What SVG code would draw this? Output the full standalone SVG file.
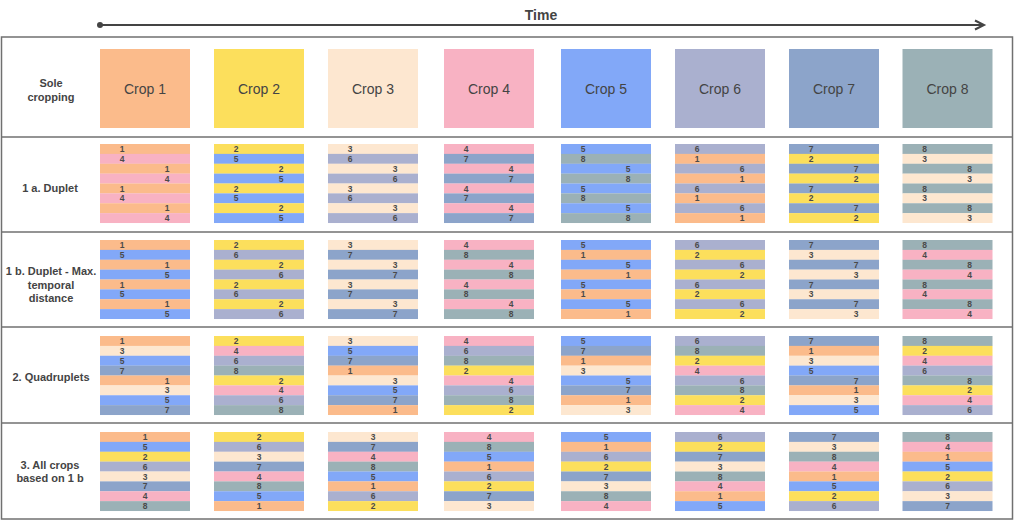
<svg xmlns="http://www.w3.org/2000/svg" width="1024" height="527" viewBox="0 0 1024 527">
<style>
.c1{fill:#FBBB8B}.c2{fill:#FCDF5C}.c3{fill:#FDE7D0}.c4{fill:#F8B2C3}.c5{fill:#82A8F8}.c6{fill:#AAB0CF}.c7{fill:#8CA4CA}.c8{fill:#9BB1B6}
.n{font-family:"Liberation Sans",Arial,sans-serif;font-weight:bold;font-size:8.5px;fill:#4a4a4a;text-anchor:middle}
.lbl{font-family:"Liberation Sans",Arial,sans-serif;font-weight:bold;font-size:11px;fill:#444;text-anchor:middle}
.crop{font-family:"Liberation Sans",Arial,sans-serif;font-size:14px;fill:#444;text-anchor:middle}
.grid{stroke:#707070;stroke-width:1.5;fill:none}
</style>
<rect width="1024" height="527" fill="#fff"/>
<g id="connectors">
<text x="541" y="20" font-family="Liberation Sans, Arial, sans-serif" font-weight="bold" font-size="14" fill="#444" text-anchor="middle">Time</text>
<line x1="100" y1="25" x2="983" y2="25" stroke="#444" stroke-width="2"/>
<circle cx="100" cy="25" r="3" fill="#444"/>
<path d="M975,20.5 L984,25 L975,29.5" fill="none" stroke="#444" stroke-width="2"/>
</g>
<g id="table">
<rect class="grid" x="1.5" y="37" width="1011" height="482"/>
<line class="grid" x1="1.5" y1="137" x2="1012.5" y2="137"/>
<line class="grid" x1="1.5" y1="232" x2="1012.5" y2="232"/>
<line class="grid" x1="1.5" y1="327" x2="1012.5" y2="327"/>
<line class="grid" x1="1.5" y1="423" x2="1012.5" y2="423"/>
</g>
<g id="row-labels">
<text class="lbl" x="51" y="87">Sole</text><text class="lbl" x="51" y="101">cropping</text>
<text class="lbl" x="50" y="192">1 a. Duplet</text>
<text class="lbl" x="51" y="275">1 b. Duplet - Max.</text><text class="lbl" x="51" y="289">temporal</text><text class="lbl" x="51" y="302">distance</text>
<text class="lbl" x="51" y="381">2. Quadruplets</text>
<text class="lbl" x="50" y="469">3. All crops</text><text class="lbl" x="50" y="482">based on 1 b</text>
</g>
<g id="sole">
<g id="crop1"><rect class="c1" x="100" y="49" width="90" height="79"/><text class="crop" x="145" y="94">Crop 1</text></g>
<g id="crop2"><rect class="c2" x="214" y="49" width="90" height="79"/><text class="crop" x="259" y="94">Crop 2</text></g>
<g id="crop3"><rect class="c3" x="328" y="49" width="90" height="79"/><text class="crop" x="373" y="94">Crop 3</text></g>
<g id="crop4"><rect class="c4" x="444" y="49" width="90" height="79"/><text class="crop" x="489" y="94">Crop 4</text></g>
<g id="crop5"><rect class="c5" x="561" y="49" width="90" height="79"/><text class="crop" x="606" y="94">Crop 5</text></g>
<g id="crop6"><rect class="c6" x="675" y="49" width="90" height="79"/><text class="crop" x="720" y="94">Crop 6</text></g>
<g id="crop7"><rect class="c7" x="789" y="49" width="90" height="79"/><text class="crop" x="834" y="94">Crop 7</text></g>
<g id="crop8"><rect class="c8" x="902.5" y="49" width="90" height="79"/><text class="crop" x="947.5" y="94">Crop 8</text></g>
</g>
<g id="duplet-1a">
<g id="d1a-1" transform="translate(100,144)"><rect class="c1" y="0" width="90" height="10"/><rect class="c4" y="9.875" width="90" height="10"/><rect class="c1" y="19.75" width="90" height="10"/><rect class="c4" y="29.625" width="90" height="10"/><rect class="c1" y="39.5" width="90" height="10"/><rect class="c4" y="49.375" width="90" height="10"/><rect class="c1" y="59.25" width="90" height="10"/><rect class="c4" y="69.125" width="90" height="9.9"/><text class="n" x="22" y="8">1</text><text class="n" x="22" y="17.9">4</text><text class="n" x="67" y="27.8">1</text><text class="n" x="67" y="37.6">4</text><text class="n" x="22" y="47.5">1</text><text class="n" x="22" y="57.4">4</text><text class="n" x="67" y="67.3">1</text><text class="n" x="67" y="77.1">4</text></g>
<g id="d1a-2" transform="translate(214,144)"><rect class="c2" y="0" width="90" height="10"/><rect class="c5" y="9.875" width="90" height="10"/><rect class="c2" y="19.75" width="90" height="10"/><rect class="c5" y="29.625" width="90" height="10"/><rect class="c2" y="39.5" width="90" height="10"/><rect class="c5" y="49.375" width="90" height="10"/><rect class="c2" y="59.25" width="90" height="10"/><rect class="c5" y="69.125" width="90" height="9.9"/><text class="n" x="22" y="8">2</text><text class="n" x="22" y="17.9">5</text><text class="n" x="67" y="27.8">2</text><text class="n" x="67" y="37.6">5</text><text class="n" x="22" y="47.5">2</text><text class="n" x="22" y="57.4">5</text><text class="n" x="67" y="67.3">2</text><text class="n" x="67" y="77.1">5</text></g>
<g id="d1a-3" transform="translate(328,144)"><rect class="c3" y="0" width="90" height="10"/><rect class="c6" y="9.875" width="90" height="10"/><rect class="c3" y="19.75" width="90" height="10"/><rect class="c6" y="29.625" width="90" height="10"/><rect class="c3" y="39.5" width="90" height="10"/><rect class="c6" y="49.375" width="90" height="10"/><rect class="c3" y="59.25" width="90" height="10"/><rect class="c6" y="69.125" width="90" height="9.9"/><text class="n" x="22" y="8">3</text><text class="n" x="22" y="17.9">6</text><text class="n" x="67" y="27.8">3</text><text class="n" x="67" y="37.6">6</text><text class="n" x="22" y="47.5">3</text><text class="n" x="22" y="57.4">6</text><text class="n" x="67" y="67.3">3</text><text class="n" x="67" y="77.1">6</text></g>
<g id="d1a-4" transform="translate(444,144)"><rect class="c4" y="0" width="90" height="10"/><rect class="c7" y="9.875" width="90" height="10"/><rect class="c4" y="19.75" width="90" height="10"/><rect class="c7" y="29.625" width="90" height="10"/><rect class="c4" y="39.5" width="90" height="10"/><rect class="c7" y="49.375" width="90" height="10"/><rect class="c4" y="59.25" width="90" height="10"/><rect class="c7" y="69.125" width="90" height="9.9"/><text class="n" x="22" y="8">4</text><text class="n" x="22" y="17.9">7</text><text class="n" x="67" y="27.8">4</text><text class="n" x="67" y="37.6">7</text><text class="n" x="22" y="47.5">4</text><text class="n" x="22" y="57.4">7</text><text class="n" x="67" y="67.3">4</text><text class="n" x="67" y="77.1">7</text></g>
<g id="d1a-5" transform="translate(561,144)"><rect class="c5" y="0" width="90" height="10"/><rect class="c8" y="9.875" width="90" height="10"/><rect class="c5" y="19.75" width="90" height="10"/><rect class="c8" y="29.625" width="90" height="10"/><rect class="c5" y="39.5" width="90" height="10"/><rect class="c8" y="49.375" width="90" height="10"/><rect class="c5" y="59.25" width="90" height="10"/><rect class="c8" y="69.125" width="90" height="9.9"/><text class="n" x="22" y="8">5</text><text class="n" x="22" y="17.9">8</text><text class="n" x="67" y="27.8">5</text><text class="n" x="67" y="37.6">8</text><text class="n" x="22" y="47.5">5</text><text class="n" x="22" y="57.4">8</text><text class="n" x="67" y="67.3">5</text><text class="n" x="67" y="77.1">8</text></g>
<g id="d1a-6" transform="translate(675,144)"><rect class="c6" y="0" width="90" height="10"/><rect class="c1" y="9.875" width="90" height="10"/><rect class="c6" y="19.75" width="90" height="10"/><rect class="c1" y="29.625" width="90" height="10"/><rect class="c6" y="39.5" width="90" height="10"/><rect class="c1" y="49.375" width="90" height="10"/><rect class="c6" y="59.25" width="90" height="10"/><rect class="c1" y="69.125" width="90" height="9.9"/><text class="n" x="22" y="8">6</text><text class="n" x="22" y="17.9">1</text><text class="n" x="67" y="27.8">6</text><text class="n" x="67" y="37.6">1</text><text class="n" x="22" y="47.5">6</text><text class="n" x="22" y="57.4">1</text><text class="n" x="67" y="67.3">6</text><text class="n" x="67" y="77.1">1</text></g>
<g id="d1a-7" transform="translate(789,144)"><rect class="c7" y="0" width="90" height="10"/><rect class="c2" y="9.875" width="90" height="10"/><rect class="c7" y="19.75" width="90" height="10"/><rect class="c2" y="29.625" width="90" height="10"/><rect class="c7" y="39.5" width="90" height="10"/><rect class="c2" y="49.375" width="90" height="10"/><rect class="c7" y="59.25" width="90" height="10"/><rect class="c2" y="69.125" width="90" height="9.9"/><text class="n" x="22" y="8">7</text><text class="n" x="22" y="17.9">2</text><text class="n" x="67" y="27.8">7</text><text class="n" x="67" y="37.6">2</text><text class="n" x="22" y="47.5">7</text><text class="n" x="22" y="57.4">2</text><text class="n" x="67" y="67.3">7</text><text class="n" x="67" y="77.1">2</text></g>
<g id="d1a-8" transform="translate(902.5,144)"><rect class="c8" y="0" width="90" height="10"/><rect class="c3" y="9.875" width="90" height="10"/><rect class="c8" y="19.75" width="90" height="10"/><rect class="c3" y="29.625" width="90" height="10"/><rect class="c8" y="39.5" width="90" height="10"/><rect class="c3" y="49.375" width="90" height="10"/><rect class="c8" y="59.25" width="90" height="10"/><rect class="c3" y="69.125" width="90" height="9.9"/><text class="n" x="22" y="8">8</text><text class="n" x="22" y="17.9">3</text><text class="n" x="67" y="27.8">8</text><text class="n" x="67" y="37.6">3</text><text class="n" x="22" y="47.5">8</text><text class="n" x="22" y="57.4">3</text><text class="n" x="67" y="67.3">8</text><text class="n" x="67" y="77.1">3</text></g>
</g>
<g id="duplet-1b">
<g id="d1b-1" transform="translate(100,240)"><rect class="c1" y="0" width="90" height="10"/><rect class="c5" y="9.875" width="90" height="10"/><rect class="c1" y="19.75" width="90" height="10"/><rect class="c5" y="29.625" width="90" height="10"/><rect class="c1" y="39.5" width="90" height="10"/><rect class="c5" y="49.375" width="90" height="10"/><rect class="c1" y="59.25" width="90" height="10"/><rect class="c5" y="69.125" width="90" height="9.9"/><text class="n" x="22" y="8">1</text><text class="n" x="22" y="17.9">5</text><text class="n" x="67" y="27.8">1</text><text class="n" x="67" y="37.6">5</text><text class="n" x="22" y="47.5">1</text><text class="n" x="22" y="57.4">5</text><text class="n" x="67" y="67.3">1</text><text class="n" x="67" y="77.1">5</text></g>
<g id="d1b-2" transform="translate(214,240)"><rect class="c2" y="0" width="90" height="10"/><rect class="c6" y="9.875" width="90" height="10"/><rect class="c2" y="19.75" width="90" height="10"/><rect class="c6" y="29.625" width="90" height="10"/><rect class="c2" y="39.5" width="90" height="10"/><rect class="c6" y="49.375" width="90" height="10"/><rect class="c2" y="59.25" width="90" height="10"/><rect class="c6" y="69.125" width="90" height="9.9"/><text class="n" x="22" y="8">2</text><text class="n" x="22" y="17.9">6</text><text class="n" x="67" y="27.8">2</text><text class="n" x="67" y="37.6">6</text><text class="n" x="22" y="47.5">2</text><text class="n" x="22" y="57.4">6</text><text class="n" x="67" y="67.3">2</text><text class="n" x="67" y="77.1">6</text></g>
<g id="d1b-3" transform="translate(328,240)"><rect class="c3" y="0" width="90" height="10"/><rect class="c7" y="9.875" width="90" height="10"/><rect class="c3" y="19.75" width="90" height="10"/><rect class="c7" y="29.625" width="90" height="10"/><rect class="c3" y="39.5" width="90" height="10"/><rect class="c7" y="49.375" width="90" height="10"/><rect class="c3" y="59.25" width="90" height="10"/><rect class="c7" y="69.125" width="90" height="9.9"/><text class="n" x="22" y="8">3</text><text class="n" x="22" y="17.9">7</text><text class="n" x="67" y="27.8">3</text><text class="n" x="67" y="37.6">7</text><text class="n" x="22" y="47.5">3</text><text class="n" x="22" y="57.4">7</text><text class="n" x="67" y="67.3">3</text><text class="n" x="67" y="77.1">7</text></g>
<g id="d1b-4" transform="translate(444,240)"><rect class="c4" y="0" width="90" height="10"/><rect class="c8" y="9.875" width="90" height="10"/><rect class="c4" y="19.75" width="90" height="10"/><rect class="c8" y="29.625" width="90" height="10"/><rect class="c4" y="39.5" width="90" height="10"/><rect class="c8" y="49.375" width="90" height="10"/><rect class="c4" y="59.25" width="90" height="10"/><rect class="c8" y="69.125" width="90" height="9.9"/><text class="n" x="22" y="8">4</text><text class="n" x="22" y="17.9">8</text><text class="n" x="67" y="27.8">4</text><text class="n" x="67" y="37.6">8</text><text class="n" x="22" y="47.5">4</text><text class="n" x="22" y="57.4">8</text><text class="n" x="67" y="67.3">4</text><text class="n" x="67" y="77.1">8</text></g>
<g id="d1b-5" transform="translate(561,240)"><rect class="c5" y="0" width="90" height="10"/><rect class="c1" y="9.875" width="90" height="10"/><rect class="c5" y="19.75" width="90" height="10"/><rect class="c1" y="29.625" width="90" height="10"/><rect class="c5" y="39.5" width="90" height="10"/><rect class="c1" y="49.375" width="90" height="10"/><rect class="c5" y="59.25" width="90" height="10"/><rect class="c1" y="69.125" width="90" height="9.9"/><text class="n" x="22" y="8">5</text><text class="n" x="22" y="17.9">1</text><text class="n" x="67" y="27.8">5</text><text class="n" x="67" y="37.6">1</text><text class="n" x="22" y="47.5">5</text><text class="n" x="22" y="57.4">1</text><text class="n" x="67" y="67.3">5</text><text class="n" x="67" y="77.1">1</text></g>
<g id="d1b-6" transform="translate(675,240)"><rect class="c6" y="0" width="90" height="10"/><rect class="c2" y="9.875" width="90" height="10"/><rect class="c6" y="19.75" width="90" height="10"/><rect class="c2" y="29.625" width="90" height="10"/><rect class="c6" y="39.5" width="90" height="10"/><rect class="c2" y="49.375" width="90" height="10"/><rect class="c6" y="59.25" width="90" height="10"/><rect class="c2" y="69.125" width="90" height="9.9"/><text class="n" x="22" y="8">6</text><text class="n" x="22" y="17.9">2</text><text class="n" x="67" y="27.8">6</text><text class="n" x="67" y="37.6">2</text><text class="n" x="22" y="47.5">6</text><text class="n" x="22" y="57.4">2</text><text class="n" x="67" y="67.3">6</text><text class="n" x="67" y="77.1">2</text></g>
<g id="d1b-7" transform="translate(789,240)"><rect class="c7" y="0" width="90" height="10"/><rect class="c3" y="9.875" width="90" height="10"/><rect class="c7" y="19.75" width="90" height="10"/><rect class="c3" y="29.625" width="90" height="10"/><rect class="c7" y="39.5" width="90" height="10"/><rect class="c3" y="49.375" width="90" height="10"/><rect class="c7" y="59.25" width="90" height="10"/><rect class="c3" y="69.125" width="90" height="9.9"/><text class="n" x="22" y="8">7</text><text class="n" x="22" y="17.9">3</text><text class="n" x="67" y="27.8">7</text><text class="n" x="67" y="37.6">3</text><text class="n" x="22" y="47.5">7</text><text class="n" x="22" y="57.4">3</text><text class="n" x="67" y="67.3">7</text><text class="n" x="67" y="77.1">3</text></g>
<g id="d1b-8" transform="translate(902.5,240)"><rect class="c8" y="0" width="90" height="10"/><rect class="c4" y="9.875" width="90" height="10"/><rect class="c8" y="19.75" width="90" height="10"/><rect class="c4" y="29.625" width="90" height="10"/><rect class="c8" y="39.5" width="90" height="10"/><rect class="c4" y="49.375" width="90" height="10"/><rect class="c8" y="59.25" width="90" height="10"/><rect class="c4" y="69.125" width="90" height="9.9"/><text class="n" x="22" y="8">8</text><text class="n" x="22" y="17.9">4</text><text class="n" x="67" y="27.8">8</text><text class="n" x="67" y="37.6">4</text><text class="n" x="22" y="47.5">8</text><text class="n" x="22" y="57.4">4</text><text class="n" x="67" y="67.3">8</text><text class="n" x="67" y="77.1">4</text></g>
</g>
<g id="quadruplets">
<g id="q-1" transform="translate(100,336)"><rect class="c1" y="0" width="90" height="10"/><rect class="c3" y="9.875" width="90" height="10"/><rect class="c5" y="19.75" width="90" height="10"/><rect class="c7" y="29.625" width="90" height="10"/><rect class="c1" y="39.5" width="90" height="10"/><rect class="c3" y="49.375" width="90" height="10"/><rect class="c5" y="59.25" width="90" height="10"/><rect class="c7" y="69.125" width="90" height="9.9"/><text class="n" x="22" y="8">1</text><text class="n" x="22" y="17.9">3</text><text class="n" x="22" y="27.8">5</text><text class="n" x="22" y="37.6">7</text><text class="n" x="67" y="47.5">1</text><text class="n" x="67" y="57.4">3</text><text class="n" x="67" y="67.3">5</text><text class="n" x="67" y="77.1">7</text></g>
<g id="q-2" transform="translate(214,336)"><rect class="c2" y="0" width="90" height="10"/><rect class="c4" y="9.875" width="90" height="10"/><rect class="c6" y="19.75" width="90" height="10"/><rect class="c8" y="29.625" width="90" height="10"/><rect class="c2" y="39.5" width="90" height="10"/><rect class="c4" y="49.375" width="90" height="10"/><rect class="c6" y="59.25" width="90" height="10"/><rect class="c8" y="69.125" width="90" height="9.9"/><text class="n" x="22" y="8">2</text><text class="n" x="22" y="17.9">4</text><text class="n" x="22" y="27.8">6</text><text class="n" x="22" y="37.6">8</text><text class="n" x="67" y="47.5">2</text><text class="n" x="67" y="57.4">4</text><text class="n" x="67" y="67.3">6</text><text class="n" x="67" y="77.1">8</text></g>
<g id="q-3" transform="translate(328,336)"><rect class="c3" y="0" width="90" height="10"/><rect class="c5" y="9.875" width="90" height="10"/><rect class="c7" y="19.75" width="90" height="10"/><rect class="c1" y="29.625" width="90" height="10"/><rect class="c3" y="39.5" width="90" height="10"/><rect class="c5" y="49.375" width="90" height="10"/><rect class="c7" y="59.25" width="90" height="10"/><rect class="c1" y="69.125" width="90" height="9.9"/><text class="n" x="22" y="8">3</text><text class="n" x="22" y="17.9">5</text><text class="n" x="22" y="27.8">7</text><text class="n" x="22" y="37.6">1</text><text class="n" x="67" y="47.5">3</text><text class="n" x="67" y="57.4">5</text><text class="n" x="67" y="67.3">7</text><text class="n" x="67" y="77.1">1</text></g>
<g id="q-4" transform="translate(444,336)"><rect class="c4" y="0" width="90" height="10"/><rect class="c6" y="9.875" width="90" height="10"/><rect class="c8" y="19.75" width="90" height="10"/><rect class="c2" y="29.625" width="90" height="10"/><rect class="c4" y="39.5" width="90" height="10"/><rect class="c6" y="49.375" width="90" height="10"/><rect class="c8" y="59.25" width="90" height="10"/><rect class="c2" y="69.125" width="90" height="9.9"/><text class="n" x="22" y="8">4</text><text class="n" x="22" y="17.9">6</text><text class="n" x="22" y="27.8">8</text><text class="n" x="22" y="37.6">2</text><text class="n" x="67" y="47.5">4</text><text class="n" x="67" y="57.4">6</text><text class="n" x="67" y="67.3">8</text><text class="n" x="67" y="77.1">2</text></g>
<g id="q-5" transform="translate(561,336)"><rect class="c5" y="0" width="90" height="10"/><rect class="c7" y="9.875" width="90" height="10"/><rect class="c1" y="19.75" width="90" height="10"/><rect class="c3" y="29.625" width="90" height="10"/><rect class="c5" y="39.5" width="90" height="10"/><rect class="c7" y="49.375" width="90" height="10"/><rect class="c1" y="59.25" width="90" height="10"/><rect class="c3" y="69.125" width="90" height="9.9"/><text class="n" x="22" y="8">5</text><text class="n" x="22" y="17.9">7</text><text class="n" x="22" y="27.8">1</text><text class="n" x="22" y="37.6">3</text><text class="n" x="67" y="47.5">5</text><text class="n" x="67" y="57.4">7</text><text class="n" x="67" y="67.3">1</text><text class="n" x="67" y="77.1">3</text></g>
<g id="q-6" transform="translate(675,336)"><rect class="c6" y="0" width="90" height="10"/><rect class="c8" y="9.875" width="90" height="10"/><rect class="c2" y="19.75" width="90" height="10"/><rect class="c4" y="29.625" width="90" height="10"/><rect class="c6" y="39.5" width="90" height="10"/><rect class="c8" y="49.375" width="90" height="10"/><rect class="c2" y="59.25" width="90" height="10"/><rect class="c4" y="69.125" width="90" height="9.9"/><text class="n" x="22" y="8">6</text><text class="n" x="22" y="17.9">8</text><text class="n" x="22" y="27.8">2</text><text class="n" x="22" y="37.6">4</text><text class="n" x="67" y="47.5">6</text><text class="n" x="67" y="57.4">8</text><text class="n" x="67" y="67.3">2</text><text class="n" x="67" y="77.1">4</text></g>
<g id="q-7" transform="translate(789,336)"><rect class="c7" y="0" width="90" height="10"/><rect class="c1" y="9.875" width="90" height="10"/><rect class="c3" y="19.75" width="90" height="10"/><rect class="c5" y="29.625" width="90" height="10"/><rect class="c7" y="39.5" width="90" height="10"/><rect class="c1" y="49.375" width="90" height="10"/><rect class="c3" y="59.25" width="90" height="10"/><rect class="c5" y="69.125" width="90" height="9.9"/><text class="n" x="22" y="8">7</text><text class="n" x="22" y="17.9">1</text><text class="n" x="22" y="27.8">3</text><text class="n" x="22" y="37.6">5</text><text class="n" x="67" y="47.5">7</text><text class="n" x="67" y="57.4">1</text><text class="n" x="67" y="67.3">3</text><text class="n" x="67" y="77.1">5</text></g>
<g id="q-8" transform="translate(902.5,336)"><rect class="c8" y="0" width="90" height="10"/><rect class="c2" y="9.875" width="90" height="10"/><rect class="c4" y="19.75" width="90" height="10"/><rect class="c6" y="29.625" width="90" height="10"/><rect class="c8" y="39.5" width="90" height="10"/><rect class="c2" y="49.375" width="90" height="10"/><rect class="c4" y="59.25" width="90" height="10"/><rect class="c6" y="69.125" width="90" height="9.9"/><text class="n" x="22" y="8">8</text><text class="n" x="22" y="17.9">2</text><text class="n" x="22" y="27.8">4</text><text class="n" x="22" y="37.6">6</text><text class="n" x="67" y="47.5">8</text><text class="n" x="67" y="57.4">2</text><text class="n" x="67" y="67.3">4</text><text class="n" x="67" y="77.1">6</text></g>
</g>
<g id="all-crops">
<g id="a-1" transform="translate(100,432)"><rect class="c1" y="0" width="90" height="10"/><rect class="c5" y="9.875" width="90" height="10"/><rect class="c2" y="19.75" width="90" height="10"/><rect class="c6" y="29.625" width="90" height="10"/><rect class="c3" y="39.5" width="90" height="10"/><rect class="c7" y="49.375" width="90" height="10"/><rect class="c4" y="59.25" width="90" height="10"/><rect class="c8" y="69.125" width="90" height="9.9"/><text class="n" x="45" y="8">1</text><text class="n" x="45" y="17.9">5</text><text class="n" x="45" y="27.8">2</text><text class="n" x="45" y="37.6">6</text><text class="n" x="45" y="47.5">3</text><text class="n" x="45" y="57.4">7</text><text class="n" x="45" y="67.3">4</text><text class="n" x="45" y="77.1">8</text></g>
<g id="a-2" transform="translate(214,432)"><rect class="c2" y="0" width="90" height="10"/><rect class="c6" y="9.875" width="90" height="10"/><rect class="c3" y="19.75" width="90" height="10"/><rect class="c7" y="29.625" width="90" height="10"/><rect class="c4" y="39.5" width="90" height="10"/><rect class="c8" y="49.375" width="90" height="10"/><rect class="c5" y="59.25" width="90" height="10"/><rect class="c1" y="69.125" width="90" height="9.9"/><text class="n" x="45" y="8">2</text><text class="n" x="45" y="17.9">6</text><text class="n" x="45" y="27.8">3</text><text class="n" x="45" y="37.6">7</text><text class="n" x="45" y="47.5">4</text><text class="n" x="45" y="57.4">8</text><text class="n" x="45" y="67.3">5</text><text class="n" x="45" y="77.1">1</text></g>
<g id="a-3" transform="translate(328,432)"><rect class="c3" y="0" width="90" height="10"/><rect class="c7" y="9.875" width="90" height="10"/><rect class="c4" y="19.75" width="90" height="10"/><rect class="c8" y="29.625" width="90" height="10"/><rect class="c5" y="39.5" width="90" height="10"/><rect class="c1" y="49.375" width="90" height="10"/><rect class="c6" y="59.25" width="90" height="10"/><rect class="c2" y="69.125" width="90" height="9.9"/><text class="n" x="45" y="8">3</text><text class="n" x="45" y="17.9">7</text><text class="n" x="45" y="27.8">4</text><text class="n" x="45" y="37.6">8</text><text class="n" x="45" y="47.5">5</text><text class="n" x="45" y="57.4">1</text><text class="n" x="45" y="67.3">6</text><text class="n" x="45" y="77.1">2</text></g>
<g id="a-4" transform="translate(444,432)"><rect class="c4" y="0" width="90" height="10"/><rect class="c8" y="9.875" width="90" height="10"/><rect class="c5" y="19.75" width="90" height="10"/><rect class="c1" y="29.625" width="90" height="10"/><rect class="c6" y="39.5" width="90" height="10"/><rect class="c2" y="49.375" width="90" height="10"/><rect class="c7" y="59.25" width="90" height="10"/><rect class="c3" y="69.125" width="90" height="9.9"/><text class="n" x="45" y="8">4</text><text class="n" x="45" y="17.9">8</text><text class="n" x="45" y="27.8">5</text><text class="n" x="45" y="37.6">1</text><text class="n" x="45" y="47.5">6</text><text class="n" x="45" y="57.4">2</text><text class="n" x="45" y="67.3">7</text><text class="n" x="45" y="77.1">3</text></g>
<g id="a-5" transform="translate(561,432)"><rect class="c5" y="0" width="90" height="10"/><rect class="c1" y="9.875" width="90" height="10"/><rect class="c6" y="19.75" width="90" height="10"/><rect class="c2" y="29.625" width="90" height="10"/><rect class="c7" y="39.5" width="90" height="10"/><rect class="c3" y="49.375" width="90" height="10"/><rect class="c8" y="59.25" width="90" height="10"/><rect class="c4" y="69.125" width="90" height="9.9"/><text class="n" x="45" y="8">5</text><text class="n" x="45" y="17.9">1</text><text class="n" x="45" y="27.8">6</text><text class="n" x="45" y="37.6">2</text><text class="n" x="45" y="47.5">7</text><text class="n" x="45" y="57.4">3</text><text class="n" x="45" y="67.3">8</text><text class="n" x="45" y="77.1">4</text></g>
<g id="a-6" transform="translate(675,432)"><rect class="c6" y="0" width="90" height="10"/><rect class="c2" y="9.875" width="90" height="10"/><rect class="c7" y="19.75" width="90" height="10"/><rect class="c3" y="29.625" width="90" height="10"/><rect class="c8" y="39.5" width="90" height="10"/><rect class="c4" y="49.375" width="90" height="10"/><rect class="c1" y="59.25" width="90" height="10"/><rect class="c5" y="69.125" width="90" height="9.9"/><text class="n" x="45" y="8">6</text><text class="n" x="45" y="17.9">2</text><text class="n" x="45" y="27.8">7</text><text class="n" x="45" y="37.6">3</text><text class="n" x="45" y="47.5">8</text><text class="n" x="45" y="57.4">4</text><text class="n" x="45" y="67.3">1</text><text class="n" x="45" y="77.1">5</text></g>
<g id="a-7" transform="translate(789,432)"><rect class="c7" y="0" width="90" height="10"/><rect class="c3" y="9.875" width="90" height="10"/><rect class="c8" y="19.75" width="90" height="10"/><rect class="c4" y="29.625" width="90" height="10"/><rect class="c1" y="39.5" width="90" height="10"/><rect class="c5" y="49.375" width="90" height="10"/><rect class="c2" y="59.25" width="90" height="10"/><rect class="c6" y="69.125" width="90" height="9.9"/><text class="n" x="45" y="8">7</text><text class="n" x="45" y="17.9">3</text><text class="n" x="45" y="27.8">8</text><text class="n" x="45" y="37.6">4</text><text class="n" x="45" y="47.5">1</text><text class="n" x="45" y="57.4">5</text><text class="n" x="45" y="67.3">2</text><text class="n" x="45" y="77.1">6</text></g>
<g id="a-8" transform="translate(902.5,432)"><rect class="c8" y="0" width="90" height="10"/><rect class="c4" y="9.875" width="90" height="10"/><rect class="c1" y="19.75" width="90" height="10"/><rect class="c5" y="29.625" width="90" height="10"/><rect class="c2" y="39.5" width="90" height="10"/><rect class="c6" y="49.375" width="90" height="10"/><rect class="c3" y="59.25" width="90" height="10"/><rect class="c7" y="69.125" width="90" height="9.9"/><text class="n" x="45" y="8">8</text><text class="n" x="45" y="17.9">4</text><text class="n" x="45" y="27.8">1</text><text class="n" x="45" y="37.6">5</text><text class="n" x="45" y="47.5">2</text><text class="n" x="45" y="57.4">6</text><text class="n" x="45" y="67.3">3</text><text class="n" x="45" y="77.1">7</text></g>
</g>
</svg>
